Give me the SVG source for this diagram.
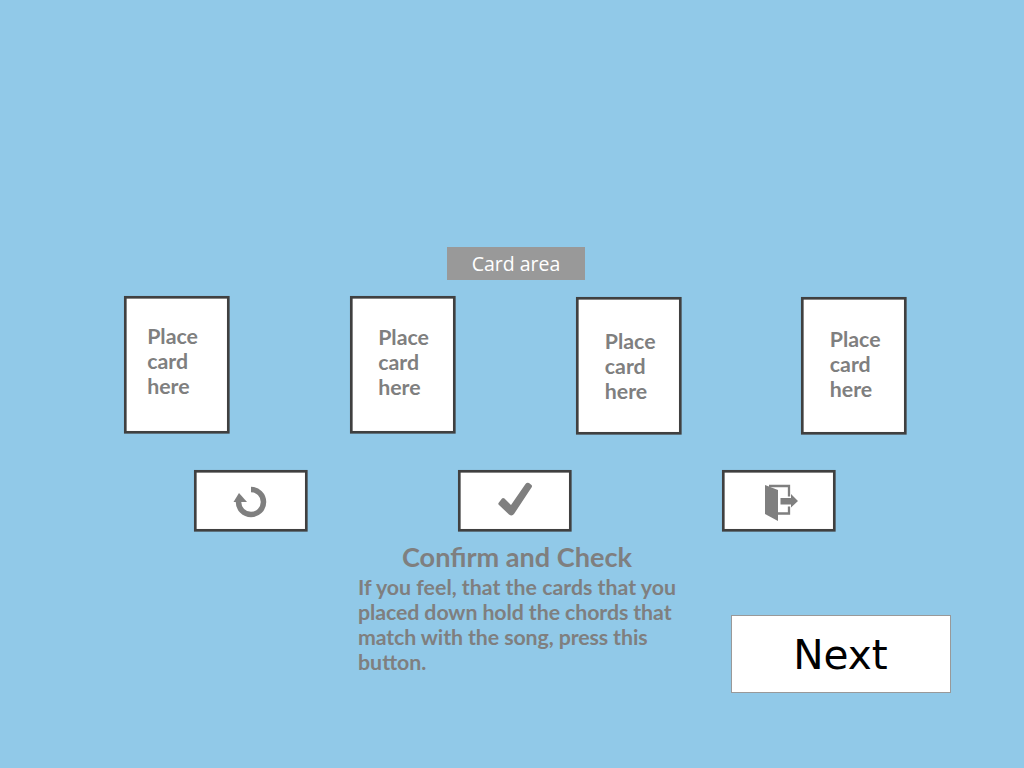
<svg xmlns="http://www.w3.org/2000/svg" width="1024" height="768" viewBox="0 0 1024 768">
<style>
.card,.btn{fill:#fff;stroke:#404040;stroke-width:2.67}
.t{font-family:Lato,"Liberation Sans",sans-serif;font-weight:700;fill:#7f7f7f;font-size:21.33px}
.ic{fill:#7f7f7f}
</style>
<rect width="1024" height="768" fill="#91c9e8"/>
<g id="card-area-label"><rect x="447" y="247" width="138" height="33" fill="#999"/><text x="516" y="271" text-anchor="middle" font-family="'Open Sans','Noto Sans',sans-serif" font-size="19.5" fill="#fff">Card area</text></g>
<g id="card1"><rect class="card" x="125.300" y="297.300" width="103" height="135"/><text class="t"><tspan x="147.200" y="344">Place</tspan><tspan x="147.200" y="369">card</tspan><tspan x="147.200" y="394">here</tspan></text></g>
<g id="card2"><rect class="card" x="351.300" y="297.300" width="103" height="135"/><text class="t"><tspan x="378.200" y="344.500">Place</tspan><tspan x="378.200" y="370">card</tspan><tspan x="378.200" y="395">here</tspan></text></g>
<g id="card3"><rect class="card" x="577.300" y="298.300" width="103" height="135"/><text class="t"><tspan x="604.800" y="349">Place</tspan><tspan x="604.800" y="374">card</tspan><tspan x="604.800" y="399">here</tspan></text></g>
<g id="card4"><rect class="card" x="802.300" y="298.300" width="103" height="135"/><text class="t"><tspan x="829.800" y="347">Place</tspan><tspan x="829.800" y="372">card</tspan><tspan x="829.800" y="397">here</tspan></text></g>
<g id="btn-reset"><rect class="btn" x="195.300" y="471.300" width="111" height="59"/>
<path d="M251 489.500A12.500 12.500 0 1 1 238.500 502" fill="none" stroke="#7f7f7f" stroke-width="5.500"/><path class="ic" d="M233.500 502L239 493L247 502Z"/></g>
<g id="btn-check"><rect class="btn" x="459.300" y="471.300" width="111" height="59"/><path class="ic" d="M498.500 503L502 498.500Q503 497.500 504.500 498.500L511 505L525.500 484Q527 482 529 483L531.500 485Q532.500 486 531.500 487.500L514 514Q512 516.500 509 514.500L499 505Q498 504 498.500 503Z"/></g>
<g id="btn-exit"><rect class="btn" x="723.300" y="471.300" width="111" height="59"/><path class="ic" d="M765 485L778 490V521L765 514Z"/><path d="M769 486H789V496.500M789 506.500V513.500H778" fill="none" stroke="#7f7f7f" stroke-width="2.300"/><path class="ic" d="M780.500 498H791V494L798 501L791 507.500V504.500H780.500Z"/></g>
<g id="description"><text x="517" y="566.500" text-anchor="middle" font-family="Lato,'Liberation Sans',sans-serif" font-weight="700" font-size="27.1" fill="#7f7f7f">Confirm and Check</text>
<text class="t"><tspan x="358" y="595">If you feel, that the cards that you</tspan><tspan x="358" y="620" letter-spacing="-0.09">placed down hold the chords that</tspan><tspan x="358" y="645" letter-spacing="-0.1">match with the song, press this</tspan><tspan x="358" y="670">button.</tspan></text></g>
<g id="next"><rect x="731.500" y="615.500" width="219" height="77" fill="#fff" stroke="#999"/><text x="840.500" y="668.500" text-anchor="middle" font-family="'DejaVu Sans',sans-serif" font-size="40.6" fill="#000">Next</text></g>
</svg>
